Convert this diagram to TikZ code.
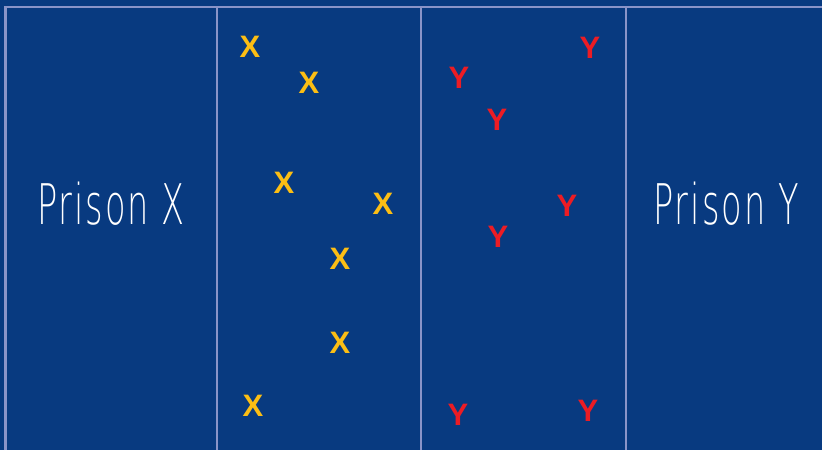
\documentclass[tikz,border=0pt]{standalone}
\usepackage{fontspec}
\setmainfont{Liberation Sans}
\newfontfamily\thinfont[LetterSpace=6]{DejaVu Sans ExtraLight}
\definecolor{bg}{RGB}{8,58,128}
\definecolor{grid}{RGB}{138,148,200}
\definecolor{xcol}{RGB}{252,190,20}
\definecolor{ycol}{RGB}{236,28,36}
\tikzset{
  xmark/.style={text=xcol, font=\fontsize{31}{31}\selectfont\bfseries, inner sep=0pt},
  ymark/.style={text=ycol, font=\fontsize{31}{31}\selectfont\bfseries, inner sep=0pt},
  gridline/.style={draw=grid, line width=2.5pt},
  prison/.style={text=white, inner sep=0pt}
}
\begin{document}
\begin{tikzpicture}[x=1pt,y=-1pt]
\fill[bg] (0,0) rectangle (822,450);
\useasboundingbox (0,0) rectangle (822,450);
\coordinate (tl) at (5.5,7);
\coordinate (tr) at (822,7);
\coordinate (b1t) at (217,7); \coordinate (b1b) at (217,450);
\coordinate (b2t) at (421,7); \coordinate (b2b) at (421,450);
\coordinate (b3t) at (626,7); \coordinate (b3b) at (626,450);
\coordinate (b0b) at (5.5,450);
\draw[gridline] (b0b) -- (tl) -- (tr);
\draw[gridline] (b1t) -- (b1b);
\draw[gridline] (b2t) -- (b2b);
\draw[gridline] (b3t) -- (b3b);
\node[prison] (px) at (111,204) {\scalebox{0.6}[1]{\thinfont\fontsize{56}{56}\selectfont Prison X}};
\node[prison] (py) at (726,204) {\scalebox{0.6}[1]{\thinfont\fontsize{56}{56}\selectfont Prison Y}};
\node[xmark] (x1) at (250,47) {X};
\node[xmark] (x2) at (309,83) {X};
\node[xmark] (x3) at (284,183) {X};
\node[xmark] (x4) at (383,204) {X};
\node[xmark] (x5) at (340,259) {X};
\node[xmark] (x6) at (340,343) {X};
\node[xmark] (x7) at (253,406) {X};
\node[ymark] (y1) at (590,48) {Y};
\node[ymark] (y2) at (459,78) {Y};
\node[ymark] (y3) at (497,120) {Y};
\node[ymark] (y4) at (567,206) {Y};
\node[ymark] (y5) at (498,237) {Y};
\node[ymark] (y6) at (458,415) {Y};
\node[ymark] (y7) at (588,411) {Y};
\end{tikzpicture}
\end{document}
